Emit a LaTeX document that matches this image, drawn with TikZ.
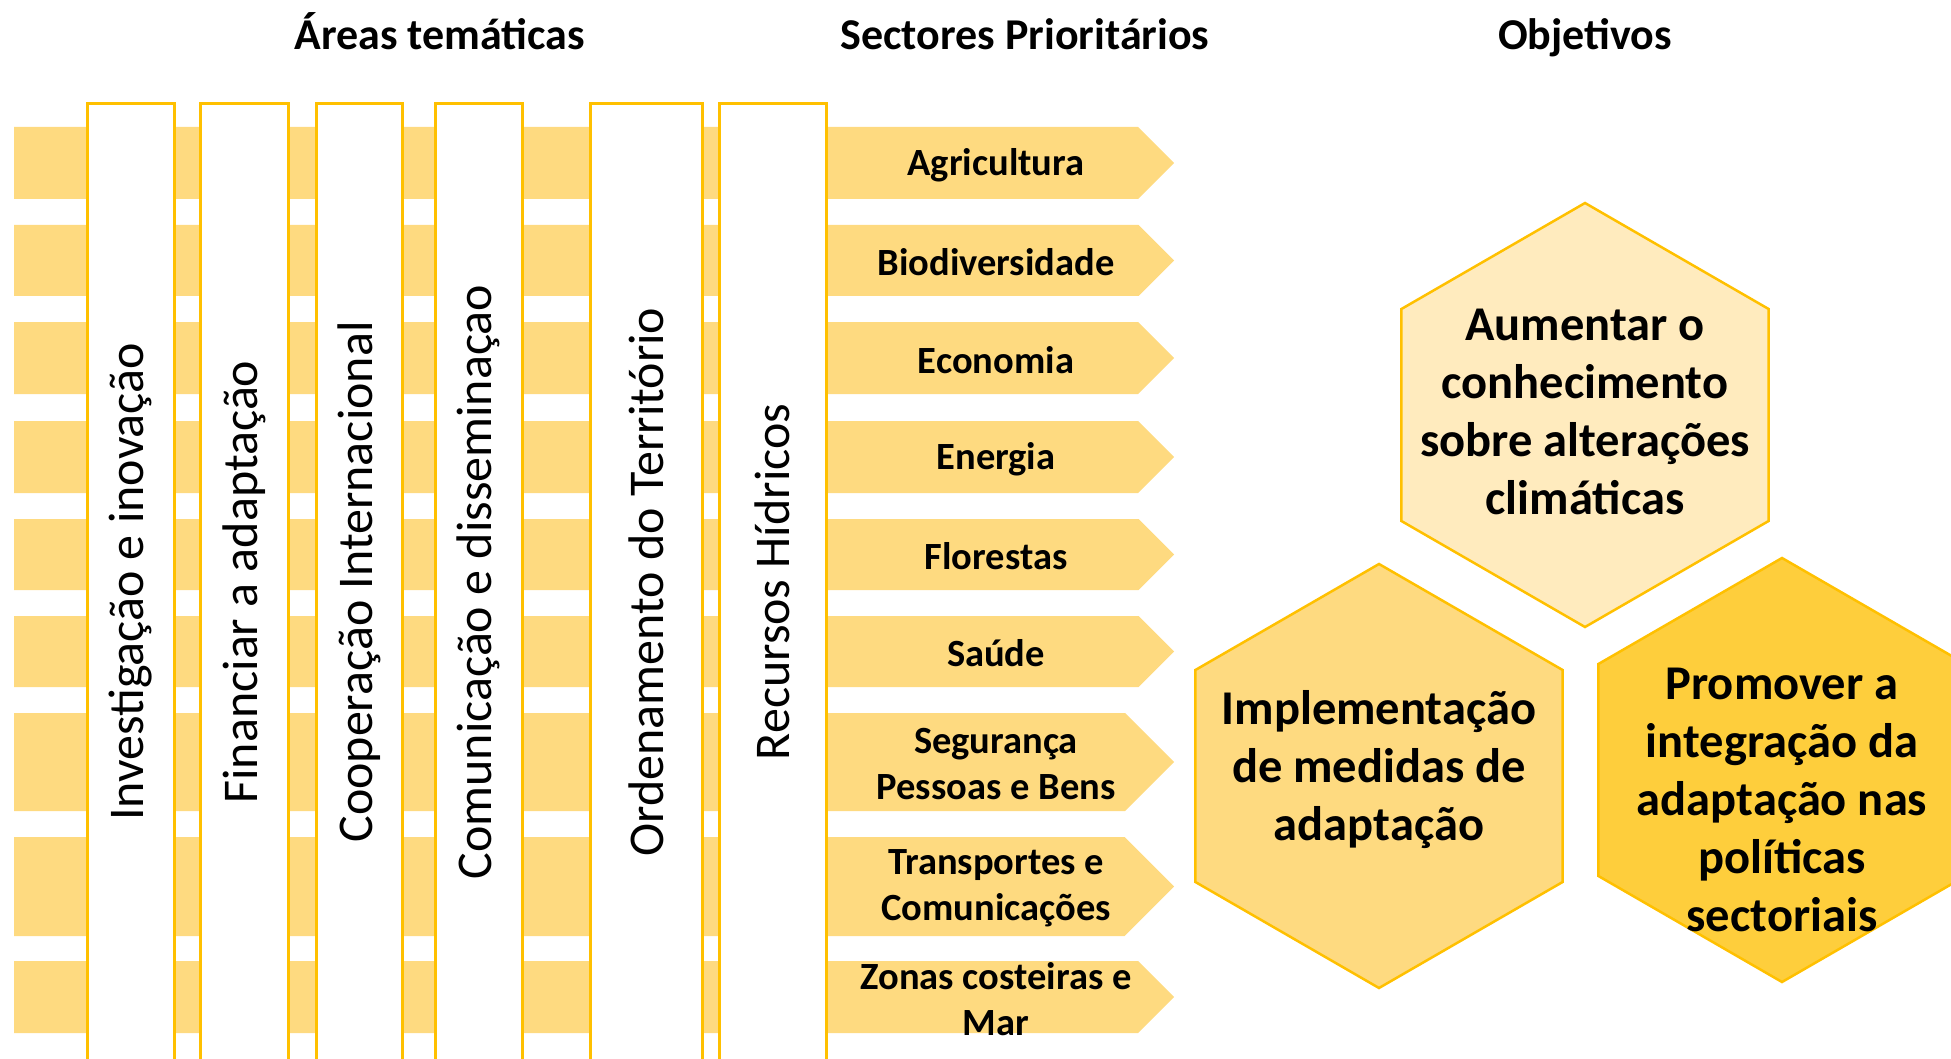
\documentclass[tikz,border=0pt]{standalone}
\usepackage{fontspec}
\setmainfont{Carlito}
\definecolor{bandfill}{RGB}{254,218,128}
\definecolor{goldline}{RGB}{255,192,0}
\definecolor{hexpale}{RGB}{255,235,190}
\definecolor{hexmid}{RGB}{254,218,128}
\definecolor{hexdeep}{RGB}{254,206,60}

\begin{document}
\begin{tikzpicture}[x=1pt,y=-1pt,
   band/.style={fill=bandfill},
   column/.style={draw=goldline,line width=3pt,fill=white},
   coltext/.style={rotate=90,font=\fontsize{50}{60}\selectfont},
   sectext/.style={align=center,font=\bfseries\fontsize{38.5}{46}\selectfont},
   head/.style={anchor=base,font=\bfseries\fontsize{44}{52}\selectfont},
   hexbox/.style={draw=goldline,line width=2.5pt},
   hextext/.style={align=center,font=\bfseries\fontsize{48.5}{58}\selectfont}]
\useasboundingbox (0,0) rectangle (1951,1059);

% headings
\node[head] (areas) at (440,50) {Áreas temáticas};
\node[head] (sectores) at (1025,50) {Sectores Prioritários};
\node[head] (objetivos) at (1585,50) {Objetivos};

% sector bands
\foreach \t/\b/\name/\lbl in {127/199/agri/Agricultura,
    225/296/bio/Biodiversidade, 322/394/eco/Economia,
    421/493/ener/Energia, 519/590/flor/Florestas, 616/687/saude/Saúde,
    713/811/seg/{Segurança\\Pessoas e Bens},
    837/936/trans/{Transportes e\\Comunicações},
    961/1033/zonas/{Zonas costeiras e\\Mar}}{
  \pgfmathsetmacro\m{(\t+\b)/2}
  \pgfmathsetmacro\e{1174-(\b-\t)/2}
  \fill[band] (14,\t) -- (\e,\t) -- (1174,\m) -- (\e,\b) -- (14,\b) -- cycle;
  \node[sectext] (\name) at (996,\m+2) {\lbl};
}

% thematic columns
\foreach \xa/\xb/\name/\lbl in {87/174/invest/Investigação e inovação,
    200/288/financ/Financiar a adaptação,
    316/402/coop/Cooperação Internacional,
    435/522/comun/Comunicação e disseminaçao,
    590/702/orden/Ordenamento do Território,
    719/826/recur/Recursos Hídricos}{
  \draw[column] (\xa,104) rectangle (\xb,1062);
  \node[coltext] (\name) at ({(\xa+\xb)/2},582) {\lbl};
}

% objectives
\foreach \cx/\cy/\tone in {1585/415/hexpale, 1379/776/hexmid, 1782/770/hexdeep}
  \draw[hexbox,fill=\tone,shift={(\cx,\cy)}] (90:212) -- (150:212) -- (210:212)
    -- (270:212) -- (330:212) -- (30:212) -- cycle;
\node[hextext] (conhecer) at (1585,412) {Aumentar o\\conhecimento\\sobre alterações\\climáticas};
\node[hextext] (medidas) at (1379,770) {Implementação\\de medidas de\\adaptação};
\node[hextext] (integrar) at (1782,800) {Promover a\\integração da\\adaptação nas\\políticas\\sectoriais};
\end{tikzpicture}
\end{document}
